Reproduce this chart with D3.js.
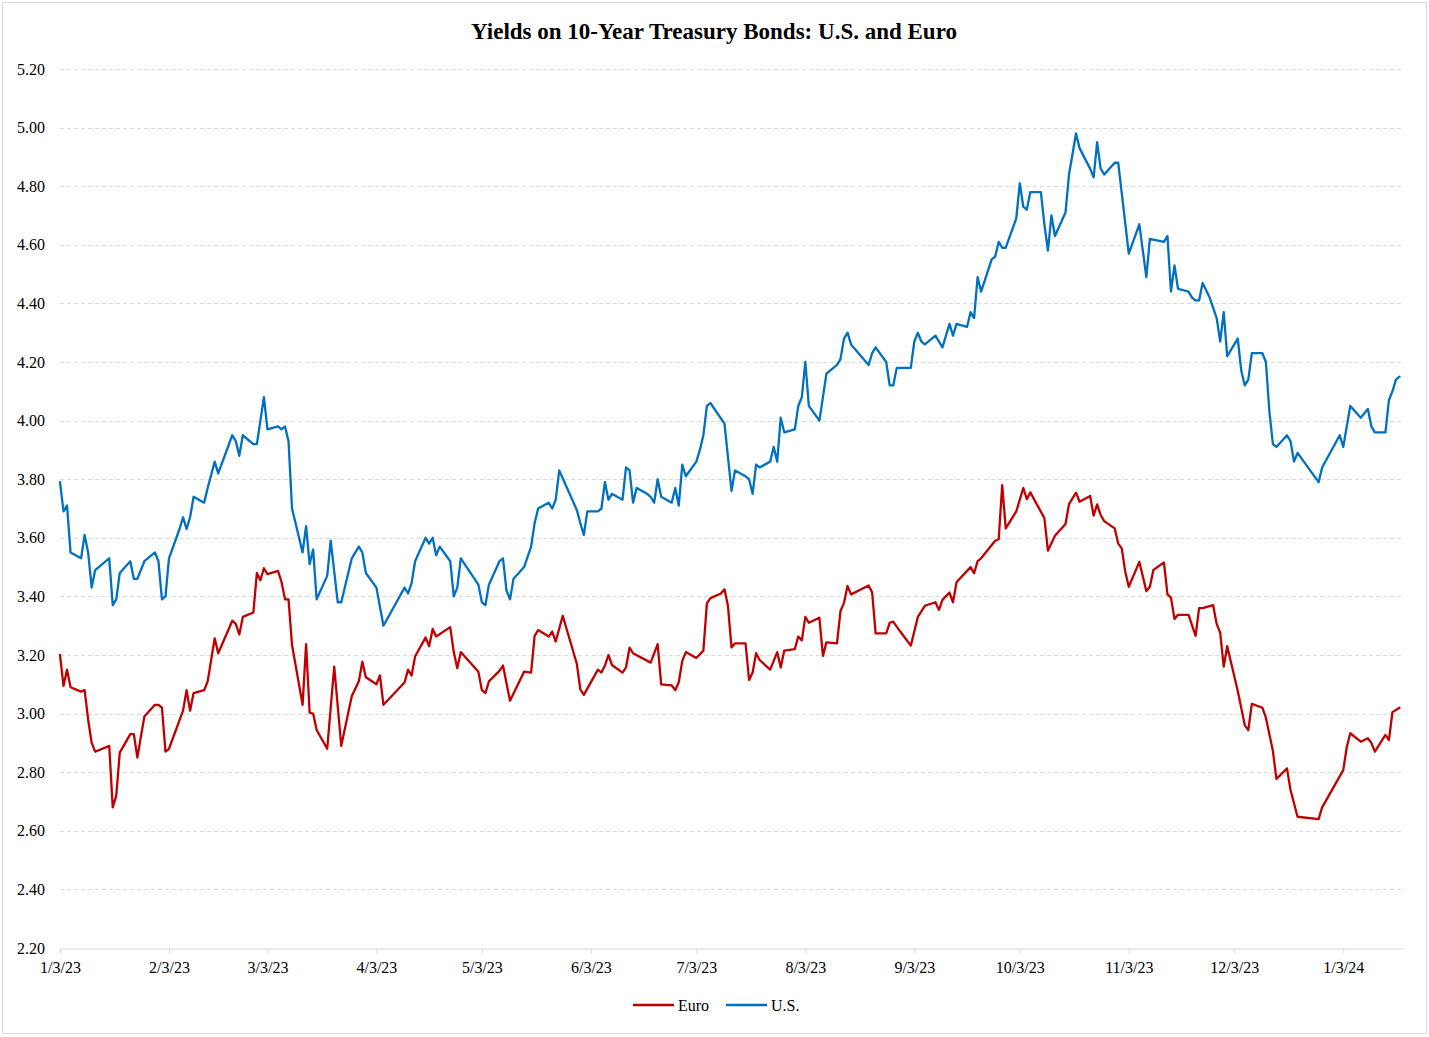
<!DOCTYPE html>
<html>
<head>
<meta charset="utf-8">
<script src="https://cdn.jsdelivr.net/npm/d3@7"></script>
<style>
  html, body { margin: 0; padding: 0; background: #ffffff; }
  svg { display: block; }
  text { font-family: "Liberation Serif", "Times New Roman", serif; fill: #000; }
</style>
</head>
<body>
<svg id="chart" width="1429" height="1037"></svg>
<script>
// ---------------- data ----------------
const title = "Yields on 10-Year Treasury Bonds: U.S. and Euro";
const seriesNames = ["Euro", "U.S."];

const usDates = ["1/3/23","1/4/23","1/5/23","1/6/23","1/9/23","1/10/23","1/11/23","1/12/23","1/13/23","1/17/23","1/18/23","1/19/23","1/20/23","1/23/23","1/24/23","1/25/23","1/27/23","1/30/23","1/31/23",
"2/1/23","2/2/23","2/3/23","2/6/23","2/7/23","2/8/23","2/9/23","2/10/23","2/13/23","2/14/23","2/16/23","2/17/23","2/21/23","2/22/23","2/23/23","2/24/23","2/27/23","2/28/23",
"3/1/23","3/2/23","3/3/23","3/6/23","3/7/23","3/8/23","3/9/23","3/10/23","3/13/23","3/14/23","3/15/23","3/16/23","3/17/23","3/20/23","3/21/23","3/23/23","3/24/23","3/27/23","3/29/23","3/30/23","3/31/23",
"4/3/23","4/5/23","4/11/23","4/12/23","4/13/23","4/14/23","4/17/23","4/18/23","4/19/23","4/20/23","4/21/23","4/24/23","4/25/23","4/26/23","4/27/23",
"5/2/23","5/3/23","5/4/23","5/5/23","5/8/23","5/9/23","5/10/23","5/11/23","5/12/23","5/15/23","5/17/23","5/18/23","5/19/23","5/22/23","5/23/23","5/24/23","5/25/23","5/30/23","5/31/23",
"6/1/23","6/2/23","6/5/23","6/6/23","6/7/23","6/8/23","6/9/23","6/12/23","6/13/23","6/14/23","6/15/23","6/16/23","6/19/23","6/20/23","6/21/23","6/22/23","6/23/23","6/26/23","6/27/23","6/28/23","6/29/23","6/30/23",
"7/3/23","7/4/23","7/5/23","7/6/23","7/7/23","7/11/23","7/13/23","7/14/23","7/17/23","7/18/23","7/19/23","7/20/23","7/21/23","7/24/23","7/25/23","7/26/23","7/27/23","7/28/23","7/31/23",
"8/1/23","8/2/23","8/3/23","8/4/23","8/7/23","8/9/23","8/12/23","8/13/23","8/14/23","8/15/23","8/16/23","8/21/23","8/22/23","8/23/23","8/26/23","8/27/23","8/28/23","8/29/23",
"9/2/23","9/3/23","9/4/23","9/5/23","9/6/23","9/9/23","9/11/23","9/13/23","9/14/23","9/15/23","9/18/23","9/19/23","9/20/23","9/21/23","9/22/23","9/25/23","9/26/23","9/27/23","9/28/23","9/29/23",
"10/2/23","10/3/23","10/4/23","10/5/23","10/6/23","10/9/23","10/10/23","10/11/23","10/12/23","10/13/23","10/16/23","10/17/23","10/19/23","10/20/23","10/23/23","10/24/23","10/25/23","10/26/23","10/27/23","10/30/23","10/31/23",
"11/3/23","11/6/23","11/8/23","11/9/23","11/13/23","11/14/23","11/15/23","11/16/23","11/17/23","11/20/23","11/21/23","11/22/23","11/23/23","11/24/23","11/26/23","11/28/23","11/29/23","11/30/23",
"12/1/23","12/4/23","12/5/23","12/6/23","12/7/23","12/8/23","12/11/23","12/12/23","12/13/23","12/14/23","12/15/23","12/18/23","12/19/23","12/20/23","12/21/23","12/27/23","12/28/23",
"1/2/24","1/3/24","1/5/24","1/8/24","1/10/24","1/11/24","1/12/24","1/15/24","1/16/24","1/17/24","1/18/24","1/19/24"];

const usValues = [3.79,3.69,3.71,3.55,3.53,3.61,3.55,3.43,3.49,3.53,3.37,3.39,3.48,3.52,3.46,3.46,3.52,3.55,3.52,
3.39,3.40,3.53,3.63,3.67,3.63,3.67,3.74,3.72,3.77,3.86,3.82,3.95,3.93,3.88,3.95,3.92,3.92,
4.00,4.08,3.97,3.98,3.97,3.98,3.93,3.70,3.55,3.64,3.51,3.56,3.39,3.47,3.59,3.38,3.38,3.53,3.57,3.55,3.48,
3.43,3.30,3.43,3.41,3.445,3.52,3.60,3.58,3.60,3.54,3.57,3.52,3.40,3.43,3.53,
3.44,3.38,3.37,3.44,3.52,3.53,3.42,3.39,3.46,3.50,3.57,3.65,3.70,3.72,3.70,3.73,3.83,3.695,3.65,
3.61,3.69,3.69,3.70,3.79,3.73,3.75,3.73,3.84,3.83,3.72,3.77,3.75,3.74,3.72,3.80,3.74,3.72,3.77,3.71,3.85,3.81,
3.86,3.90,3.95,4.05,4.06,3.99,3.76,3.83,3.81,3.80,3.75,3.85,3.84,3.86,3.91,3.86,4.01,3.96,3.97,
4.05,4.08,4.20,4.05,4.00,4.16,4.19,4.21,4.28,4.30,4.26,4.19,4.23,4.25,4.20,4.12,4.12,4.18,
4.18,4.27,4.30,4.27,4.26,4.29,4.25,4.33,4.29,4.33,4.32,4.37,4.35,4.49,4.44,4.55,4.56,4.61,4.59,4.59,
4.69,4.81,4.73,4.72,4.78,4.78,4.67,4.58,4.70,4.63,4.71,4.84,4.98,4.93,4.86,4.83,4.95,4.86,4.84,4.88,4.88,
4.57,4.67,4.49,4.62,4.61,4.63,4.44,4.53,4.45,4.44,4.42,4.41,4.41,4.47,4.42,4.35,4.27,4.37,
4.22,4.28,4.17,4.12,4.14,4.23,4.23,4.20,4.03,3.92,3.91,3.95,3.93,3.86,3.89,3.79,3.84,
3.95,3.91,4.05,4.01,4.04,3.98,3.96,3.96,4.07,4.10,4.14,4.15];

const euroDates = ["1/3/23","1/4/23","1/5/23","1/6/23","1/9/23","1/10/23","1/11/23","1/12/23","1/13/23","1/17/23","1/18/23","1/19/23","1/20/23","1/23/23","1/24/23","1/25/23","1/27/23","1/30/23","1/31/23",
"2/1/23","2/2/23","2/3/23","2/7/23","2/8/23","2/9/23","2/10/23","2/13/23","2/14/23","2/16/23","2/17/23","2/21/23","2/22/23","2/23/23","2/24/23","2/27/23","2/28/23",
"3/1/23","3/2/23","3/3/23","3/6/23","3/7/23","3/8/23","3/9/23","3/10/23","3/13/23","3/14/23","3/15/23","3/16/23","3/17/23","3/20/23","3/22/23","3/24/23","3/27/23","3/29/23","3/30/23","3/31/23",
"4/3/23","4/4/23","4/5/23","4/11/23","4/12/23","4/13/23","4/14/23","4/17/23","4/18/23","4/19/23","4/20/23","4/24/23","4/25/23","4/26/23","4/27/23",
"5/2/23","5/3/23","5/4/23","5/5/23","5/8/23","5/9/23","5/11/23","5/15/23","5/17/23","5/18/23","5/19/23","5/22/23","5/23/23","5/24/23","5/26/23","5/30/23","5/31/23",
"6/1/23","6/5/23","6/6/23","6/7/23","6/8/23","6/9/23","6/12/23","6/13/23","6/14/23","6/15/23","6/20/23","6/22/23","6/23/23","6/26/23","6/27/23","6/28/23","6/29/23","6/30/23",
"7/3/23","7/5/23","7/6/23","7/7/23","7/10/23","7/11/23","7/12/23","7/13/23","7/14/23","7/17/23","7/18/23","7/19/23","7/20/23","7/21/23","7/24/23","7/26/23","7/27/23","7/28/23","7/31/23",
"8/1/23","8/2/23","8/3/23","8/4/23","8/7/23","8/8/23","8/9/23","8/12/23","8/13/23","8/14/23","8/15/23","8/16/23","8/21/23","8/22/23","8/23/23","8/26/23","8/27/23","8/28/23","8/30/23",
"9/2/23","9/4/23","9/6/23","9/9/23","9/10/23","9/11/23","9/13/23","9/14/23","9/15/23","9/19/23","9/20/23","9/21/23","9/22/23","9/26/23","9/27/23","9/28/23","9/29/23",
"10/2/23","10/4/23","10/5/23","10/6/23","10/10/23","10/11/23","10/13/23","10/16/23","10/17/23","10/19/23","10/20/23","10/23/23","10/24/23","10/25/23","10/26/23","10/27/23","10/30/23","10/31/23",
"11/1/23","11/2/23","11/3/23","11/6/23","11/8/23","11/9/23","11/10/23","11/13/23","11/14/23","11/15/23","11/16/23","11/17/23","11/20/23","11/22/23","11/23/23","11/24/23","11/27/23","11/28/23","11/29/23","11/30/23",
"12/1/23","12/4/23","12/6/23","12/7/23","12/8/23","12/11/23","12/12/23","12/14/23","12/15/23","12/18/23","12/19/23","12/21/23","12/27/23","12/28/23",
"1/3/24","1/4/24","1/5/24","1/8/24","1/10/24","1/11/24","1/12/24","1/15/24","1/16/24","1/17/24","1/19/24"];

const euroValues = [3.20,3.095,3.15,3.09,3.075,3.08,2.98,2.90,2.87,2.89,2.68,2.72,2.867,2.93,2.93,2.85,2.99,3.03,3.03,
3.02,2.87,2.88,3.01,3.08,3.01,3.07,3.08,3.11,3.257,3.206,3.317,3.306,3.27,3.33,3.345,3.48,
3.455,3.496,3.476,3.487,3.45,3.39,3.39,3.234,3.03,3.237,3.003,3.00,2.944,2.88,3.16,2.89,3.06,3.11,3.177,3.124,
3.10,3.13,3.03,3.106,3.15,3.13,3.195,3.26,3.23,3.289,3.263,3.295,3.21,3.155,3.21,
3.143,3.08,3.07,3.11,3.146,3.164,3.044,3.143,3.14,3.265,3.285,3.263,3.28,3.246,3.334,3.17,3.083,
3.064,3.15,3.14,3.164,3.20,3.166,3.14,3.158,3.225,3.206,3.174,3.237,3.10,3.096,3.08,3.107,3.18,3.21,
3.19,3.215,3.376,3.394,3.41,3.424,3.367,3.226,3.24,3.24,3.115,3.14,3.206,3.183,3.15,3.21,3.157,3.215,3.22,
3.263,3.25,3.33,3.31,3.327,3.197,3.243,3.24,3.35,3.378,3.436,3.407,3.437,3.414,3.274,3.274,3.31,3.314,3.28,
3.232,3.33,3.368,3.38,3.354,3.388,3.413,3.38,3.448,3.50,3.479,3.52,3.53,3.59,3.595,3.78,3.632,
3.69,3.77,3.732,3.755,3.667,3.556,3.607,3.647,3.715,3.754,3.723,3.743,3.676,3.714,3.678,3.657,3.632,3.58,
3.564,3.484,3.433,3.518,3.418,3.433,3.49,3.516,3.407,3.396,3.323,3.337,3.337,3.265,3.36,3.36,3.37,3.306,3.276,3.16,
3.23,3.077,2.96,2.944,3.033,3.02,2.986,2.872,2.777,2.813,2.74,2.648,2.64,2.68,
2.807,2.885,2.933,2.904,2.916,2.90,2.87,2.927,2.91,3.005,3.02];

const xTickLabels = ["1/3/23","2/3/23","3/3/23","4/3/23","5/3/23","6/3/23","7/3/23","8/3/23","9/3/23","10/3/23","11/3/23","12/3/23","1/3/24"];
const yTickValues = [2.2,2.4,2.6,2.8,3.0,3.2,3.4,3.6,3.8,4.0,4.2,4.4,4.6,4.8,5.0,5.2];
const xDomain = ["1/3/23","1/20/24"];
const yDomain = [2.2, 5.2];

// ---------------- drawing ----------------
(function () {
const parse = d3.utcParse("%m/%d/%y");
const colors = { "Euro": "#C00000", "U.S.": "#0070C0" };

const svg = d3.select("#chart");
const W = 1429, H = 1037;
const plotLeft = 60, plotRight = 1403, plotTop = 69, plotBottom = 948;

svg.append("rect").attr("x", 0).attr("y", 0).attr("width", W).attr("height", H).attr("fill", "#fff");
svg.append("rect").attr("x", 2.5).attr("y", 2.5).attr("width", 1424).attr("height", 1031)
   .attr("fill", "none").attr("stroke", "#d9d9d9").attr("stroke-width", 1);

const x = d3.scaleUtc().domain(xDomain.map(parse)).range([plotLeft, plotRight]);
const y = d3.scaleLinear().domain(yDomain).range([plotBottom, plotTop]);

// gridlines
svg.append("g").selectAll("line")
  .data(yTickValues.filter(v => v > yDomain[0]))
  .join("line")
  .attr("x1", plotLeft).attr("x2", plotRight)
  .attr("y1", d => Math.round(y(d)) + 0.5).attr("y2", d => Math.round(y(d)) + 0.5)
  .attr("stroke", "#d9d9d9").attr("stroke-width", 1).attr("stroke-dasharray", "4,3");

// y labels
svg.append("g").selectAll("text")
  .data(yTickValues)
  .join("text")
  .attr("x", 45).attr("y", d => y(d))
  .attr("dy", "0.35em")
  .attr("text-anchor", "end")
  .attr("font-size", 16)
  .text(d => d3.format(".2f")(d));

// x axis
const xAxis = d3.axisBottom(x)
  .tickValues(xTickLabels.map(parse))
  .tickFormat((d, i) => xTickLabels[i])
  .tickSize(5).tickSizeOuter(0).tickPadding(8);
const gx = svg.append("g").attr("transform", `translate(0,${plotBottom + 0.5})`).call(xAxis);
gx.select(".domain").attr("stroke", "#d9d9d9").attr("stroke-width", 1);
gx.selectAll(".tick line").attr("stroke", "#d9d9d9");
gx.selectAll(".tick text").attr("font-size", 16)
  .attr("font-family", "Liberation Serif, Times New Roman, serif").attr("fill", "#000");

// lines
const line = d3.line().x(d => x(d.date)).y(d => y(d.value));
const series = [
  { name: "Euro", data: euroDates.map((s, i) => ({ date: parse(s), value: euroValues[i] })) },
  { name: "U.S.", data: usDates.map((s, i) => ({ date: parse(s), value: usValues[i] })) }
];
svg.append("g").selectAll("path")
  .data(series)
  .join("path")
  .attr("d", d => line(d.data))
  .attr("fill", "none")
  .attr("stroke", d => colors[d.name])
  .attr("stroke-width", 2.3)
  .attr("stroke-linejoin", "round")
  .attr("stroke-linecap", "round");

// title
svg.append("text")
  .attr("x", 714).attr("y", 39)
  .attr("text-anchor", "middle")
  .attr("font-size", 23).attr("font-weight", "bold")
  .text(title);

// legend
const legendX = [633, 726];
const lg = svg.append("g").selectAll("g").data(seriesNames).join("g")
  .attr("transform", (d, i) => `translate(${legendX[i]},1005)`);
lg.append("line").attr("x1", 0).attr("x2", 41).attr("y1", 0).attr("y2", 0)
  .attr("stroke", d => colors[d]).attr("stroke-width", 2.3);
lg.append("text").attr("x", 45).attr("y", 0).attr("dy", "0.35em")
  .attr("font-size", 16).text(d => d);
})();
</script>
</body>
</html>
